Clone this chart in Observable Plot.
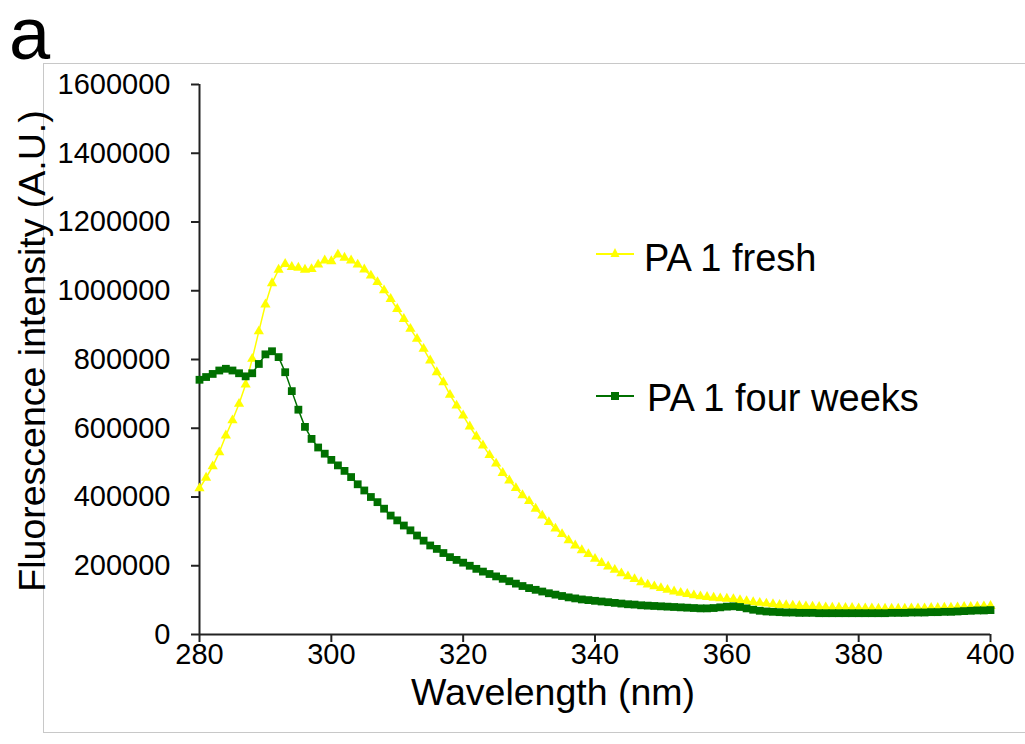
<!DOCTYPE html>
<html><head><meta charset="utf-8">
<script src="https://cdn.jsdelivr.net/npm/d3@7"></script>
<script src="https://cdn.jsdelivr.net/npm/@observablehq/plot@0.6"></script>
<style>
body{margin:0;background:#fff;font-family:"Liberation Sans",Arial,sans-serif;}
#wrap{position:relative;width:1025px;height:744px;overflow:hidden;background:#fff;}
#frame{position:absolute;left:43px;top:63px;width:1000px;height:668px;border:1px solid #c8c8c8;}
#panel{position:absolute;left:9px;top:0px;font-size:74px;color:#000;line-height:0.92;}
#chart{position:absolute;left:0;top:0;}
.ttl{position:absolute;color:#000;font-size:37.5px;white-space:nowrap;line-height:1;}
#ytitle{left:33px;top:351px;transform:translate(-50%,-50%) rotate(-90deg);}
#xtitle{left:553px;top:674px;transform:translate(-50%,0);}
.leg{position:absolute;display:flex;align-items:center;font-size:38px;white-space:nowrap;line-height:1;}
</style></head><body>
<div id="wrap">
<div id="frame"></div>
<div id="panel">a</div>
<div id="chart"></div>
<div class="ttl" id="ytitle"></div>
<div class="ttl" id="xtitle"></div>
<div id="legend"></div>
</div>
<script>
const wavelengths = d3.range(280, 401);
const seriesNames = ["PA 1 fresh", "PA 1 four weeks"];
const seriesColors = ["#ffff00", "#007000"];
const seriesSymbols = ["triangle", "square"];
const xTicks = [280, 300, 320, 340, 360, 380, 400];
const yTicks = [0, 200000, 400000, 600000, 800000, 1000000, 1200000, 1400000, 1600000];
const xTitle = "Wavelength (nm)";
const yTitle = "Fluorescence intensity (A.U.)";

const fresh = [
 425000, 456000, 489000, 530000, 579000, 623000, 671000, 727000, 802000, 882000,
 960000,1022000,1061000,1078000,1069000,1067000,1061000,1063000,1076000,1088000,
1086000,1105000,1096000,1088000,1076000,1062000,1044000,1025000,1001000, 976000,
 947000, 918000, 889000, 860000, 831000, 797000, 763000, 734000, 697000, 666000,
 637000, 605000, 576000, 550000, 522000, 497000, 470000, 448000, 426000, 405000,
 388000, 366000, 346000, 327000, 308000, 292000, 274000, 259000, 245000, 234000,
 220000, 208000, 198000, 188000, 178000, 169000, 161000, 152000, 145000, 140000,
 135000, 130000, 125000, 121000, 118000, 114000, 111000, 109000, 107000, 105000,
 104000, 103000, 100000,  97000,  94000,  92000,  90000,  88000,  86000,  85000,
  84000,  83000,  82000,  81000,  80000,  79000,  78000,  78000,  77000,  77000,
  76000,  76000,  76000,  75000,  75000,  75000,  75000,  75000,  76000,  76000,
  76000,  77000,  77000,  78000,  78000,  79000,  80000,  80000,  81000,  82000,
  83000
];
const fourWeeks = [
 741000, 749000, 758000, 768000, 773000, 768000, 760000, 751000, 760000, 787000,
 815000, 824000, 807000, 763000, 708000, 654000, 604000, 569000, 544000, 526000,
 508000, 492000, 476000, 458000, 437000, 419000, 400000, 385000, 366000, 346000,
 332000, 317000, 303000, 288000, 273000, 259000, 249000, 237000, 225000, 217000,
 209000, 200000, 191000, 183000, 176000, 169000, 162000, 155000, 148000, 141000,
 135000, 130000, 125000, 120000, 116000, 112000, 108000, 105000, 102000, 100000,
  98000,  96000,  94000,  92000,  90000,  88000,  87000,  85000,  84000,  83000,
  82000,  81000,  80000,  79000,  78000,  77000,  76000,  76000,  77000,  79000,
  81000,  82000,  80000,  76000,  72000,  69000,  67000,  66000,  65000,  64000,
  64000,  63000,  63000,  63000,  62000,  62000,  62000,  62000,  62000,  62000,
  62000,  62000,  62000,  62000,  62000,  63000,  63000,  63000,  64000,  64000,
  64000,  65000,  65000,  66000,  66000,  67000,  68000,  69000,  70000,  70000,
  71000
];

const data = [];
[fresh, fourWeeks].forEach((vals, s) => {
  wavelengths.forEach((w, i) => data.push({series: seriesNames[s], wl: w, v: vals[i]}));
});
const dFresh = data.filter(d => d.series === seriesNames[0]);
const dFour = data.filter(d => d.series === seriesNames[1]);

const chart = Plot.plot({
  width: 1025,
  height: 744,
  marginLeft: 199,
  marginRight: 35,
  marginTop: 84,
  marginBottom: 110,
  style: {fontFamily: '"Liberation Sans", Arial, sans-serif', background: "transparent", color: "#000"},
  x: {domain: [280, 400]},
  y: {domain: [0, 1600000]},
  marks: [
    Plot.axisY({ticks: yTicks, tickFormat: d3.format("d"), tickSize: 8, tickPadding: 21, fontSize: 29, strokeWidth: 2, stroke: "#222", label: null}),
    Plot.axisX({ticks: xTicks, tickFormat: d3.format("d"), tickSize: 8, tickPadding: 1, fontSize: 29, strokeWidth: 2, stroke: "#222", label: null}),
    Plot.ruleX([280], {stroke: "#222", strokeWidth: 2}),
    Plot.ruleY([0], {stroke: "#222", strokeWidth: 2}),
    Plot.line(dFresh, {x: "wl", y: "v", stroke: seriesColors[0], strokeWidth: 1.5}),
    Plot.dot(dFresh, {x: "wl", y: "v", symbol: seriesSymbols[0], r: 3.8, fill: seriesColors[0], stroke: "none"}),
    Plot.line(dFour, {x: "wl", y: "v", stroke: seriesColors[1], strokeWidth: 1.5}),
    Plot.dot(dFour, {x: "wl", y: "v", symbol: seriesSymbols[1], r: 4.4, fill: seriesColors[1], stroke: "none"})
  ]
});
document.getElementById("chart").appendChild(chart);
document.getElementById("xtitle").textContent = xTitle;
document.getElementById("ytitle").textContent = yTitle;

// legend
const legPos = [{left: 596, top: 258, gap: 10}, {left: 596, top: 398, gap: 13}];
const legend = document.getElementById("legend");
seriesNames.forEach((name, i) => {
  const div = document.createElement("div");
  div.className = "leg";
  div.style.left = legPos[i].left + "px";
  div.style.top = (legPos[i].top - 20) + "px";
  div.style.height = "40px";
  const ly = i === 0 ? 16 : 18;
  const marker = i === 0
    ? `<polygon points="19,10 14.5,19 23.5,19" fill="${seriesColors[i]}"/>`
    : `<rect x="15" y="14" width="8" height="8" fill="${seriesColors[i]}"/>`;
  div.innerHTML = `<svg width="38" height="40" style="margin-right:${legPos[i].gap}px"><line x1="0" x2="38" y1="${ly}" y2="${ly}" stroke="${seriesColors[i]}" stroke-width="2"/>${marker}</svg><span>${name}</span>`;
  legend.appendChild(div);
});
</script>
</body></html>
